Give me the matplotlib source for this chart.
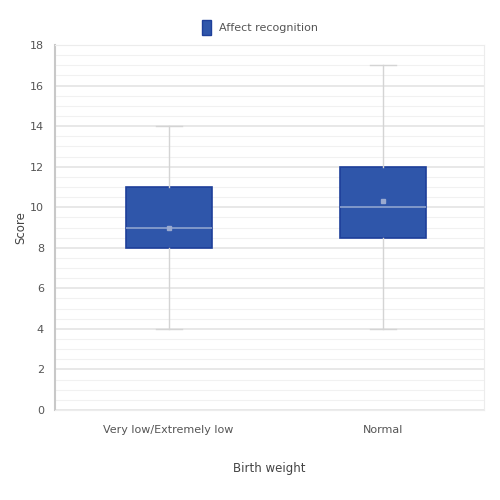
import matplotlib.pyplot as plt
from matplotlib.ticker import MultipleLocator
from matplotlib.patches import Patch

categories = ['Very low/Extremely low', 'Normal']
whisker_low = [4, 4]
q1 = [8, 8.5]
median = [9, 10]
q3 = [11, 12]
whisker_high = [14, 17]
mean = [9, 10.3]

box_color = '#2f56aa'
edge_color = '#1e3f9a'
light = '#d4d4d4'

stats = []
for i, cat in enumerate(categories):
    stats.append({'label': cat, 'whislo': whisker_low[i], 'q1': q1[i], 'med': median[i],
                  'q3': q3[i], 'whishi': whisker_high[i], 'mean': mean[i], 'fliers': []})

fig = plt.figure(figsize=(5, 5), dpi=100)
ax = fig.add_axes([0.11, 0.18, 0.858, 0.73])

ax.bxp(stats, positions=[0, 1], widths=0.4, capwidths=0.12, patch_artist=True, showmeans=True,
       boxprops=dict(facecolor=box_color, edgecolor=edge_color, linewidth=1.2),
       medianprops=dict(color='#8fa3cf', linewidth=1.2),
       whiskerprops=dict(color=light, linewidth=1),
       capprops=dict(color=light, linewidth=1),
       meanprops=dict(marker='s', markersize=3, markerfacecolor='#9aaad0', markeredgecolor='#9aaad0'),
       zorder=3)

ax.set_xlim(-0.53, 1.47)
ax.set_ylim(0, 18)
ax.yaxis.set_major_locator(MultipleLocator(2))
ax.yaxis.set_minor_locator(MultipleLocator(0.5))
ax.grid(axis='y', which='major', color='#e4e4e4', linewidth=1.2, zorder=0)
ax.grid(axis='y', which='minor', color='#f1f1f1', linewidth=0.8, zorder=0)
ax.set_axisbelow(True)

for side in ['top', 'right', 'bottom']:
    ax.spines[side].set_color('#ececec')
ax.spines['left'].set_color('#c8c8c8')
ax.spines['left'].set_linewidth(1.5)
ax.tick_params(axis='both', which='both', length=0, labelsize=8, colors='#555555')
ax.tick_params(axis='y', pad=8)
ax.tick_params(axis='x', pad=11)

ax.set_ylabel('Score', fontsize=8.5, color='#444444', labelpad=2)
ax.set_xlabel('Birth weight', fontsize=8.5, color='#444444', labelpad=19)

handle = Patch(facecolor=box_color, edgecolor=edge_color, label='Affect recognition')
fig.legend(handles=[handle], loc='center', bbox_to_anchor=(0.52, 0.945), frameon=False,
           fontsize=8, handlelength=0.8, handleheight=1.6, labelcolor='#555555')

fig.savefig('out.png', dpi=100)
